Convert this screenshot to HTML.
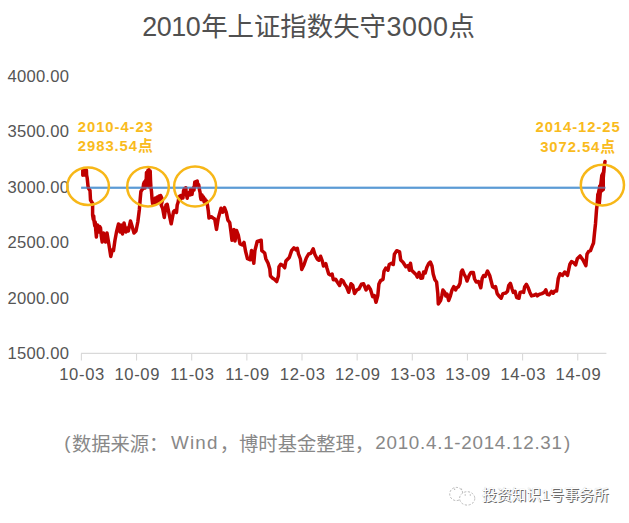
<!DOCTYPE html>
<html lang="zh-CN">
<head>
<meta charset="utf-8">
<title>2010年上证指数失守3000点</title>
<style>
html,body{margin:0;padding:0;background:#fff;}
body{width:629px;height:523px;overflow:hidden;position:relative;font-family:"Liberation Sans","Noto Sans CJK SC",sans-serif;}
svg{position:absolute;left:0;top:0;display:block;}
.title{font-size:26.4px;fill:#505050;}
.title .td{font-size:26.9px;}
.ax text{font-size:16.6px;fill:#555;letter-spacing:0.25px;}
.ann{font-size:14.8px;font-weight:bold;fill:#f9bb1d;letter-spacing:0.95px;}
.src{position:absolute;left:0;top:429px;width:629px;height:28px;color:#888;font-size:19.3px;line-height:28px;}
.src span{position:absolute;top:1.8px;white-space:nowrap;}
.src .la{font-size:18.8px;top:0;}
.wm{position:absolute;left:482px;top:485px;white-space:nowrap;font-size:14.9px;line-height:20px;color:#fff;text-shadow:1px 1px 0 #6a6a6a,0 0 1px #bbb;letter-spacing:-0.1px;}
</style>
</head>
<body>
<svg width="629" height="523" viewBox="0 0 629 523" font-family="'Liberation Sans','Noto Sans CJK SC',sans-serif">
<text class="title" y="36.4"><tspan class="td" x="142.2" textLength="58.6" lengthAdjust="spacing">2010</tspan><tspan x="201.2">年上证指数失守</tspan><tspan class="td" x="386.4" textLength="61.6" lengthAdjust="spacing">3000</tspan><tspan x="448.4">点</tspan></text>
<g class="ax"><text x="69.2" y="82.00" text-anchor="end">4000.00</text><text x="69.2" y="137.40" text-anchor="end">3500.00</text><text x="69.2" y="192.80" text-anchor="end">3000.00</text><text x="69.2" y="248.20" text-anchor="end">2500.00</text><text x="69.2" y="303.60" text-anchor="end">2000.00</text><text x="69.2" y="359.00" text-anchor="end">1500.00</text><text x="82.10" y="379.6" text-anchor="middle" style="letter-spacing:0.65px">10-03</text><text x="137.25" y="379.6" text-anchor="middle" style="letter-spacing:0.65px">10-09</text><text x="192.40" y="379.6" text-anchor="middle" style="letter-spacing:0.65px">11-03</text><text x="247.55" y="379.6" text-anchor="middle" style="letter-spacing:0.65px">11-09</text><text x="302.70" y="379.6" text-anchor="middle" style="letter-spacing:0.65px">12-03</text><text x="357.85" y="379.6" text-anchor="middle" style="letter-spacing:0.65px">12-09</text><text x="413.00" y="379.6" text-anchor="middle" style="letter-spacing:0.65px">13-03</text><text x="468.15" y="379.6" text-anchor="middle" style="letter-spacing:0.65px">13-09</text><text x="523.30" y="379.6" text-anchor="middle" style="letter-spacing:0.65px">14-03</text><text x="578.45" y="379.6" text-anchor="middle" style="letter-spacing:0.65px">14-09</text></g>
<g stroke="#d9d9d9" stroke-width="1.1" fill="none"><line x1="81" y1="353.4" x2="606.4" y2="353.4"/><line x1="81.40" y1="353.4" x2="81.40" y2="360.5"/><line x1="136.55" y1="353.4" x2="136.55" y2="360.5"/><line x1="191.70" y1="353.4" x2="191.70" y2="360.5"/><line x1="246.85" y1="353.4" x2="246.85" y2="360.5"/><line x1="302.00" y1="353.4" x2="302.00" y2="360.5"/><line x1="357.15" y1="353.4" x2="357.15" y2="360.5"/><line x1="412.30" y1="353.4" x2="412.30" y2="360.5"/><line x1="467.45" y1="353.4" x2="467.45" y2="360.5"/><line x1="522.60" y1="353.4" x2="522.60" y2="360.5"/><line x1="577.75" y1="353.4" x2="577.75" y2="360.5"/></g>
<line x1="81.2" y1="187.7" x2="605.4" y2="187.7" stroke="#5b9bd5" stroke-width="2.1"/>
<polyline points="82.8,175.2 82.8,170 84,170 84,175 85.2,175 85.2,170 86.4,170 86.6,175 87.2,178 88,186 88.6,188.5 90,190.5 90.5,200 92.6,203.5 92.6,215 93.3,219.5 93.7,216 94.1,221.5 94.8,226 95.2,222 95.7,229.5 96.4,237 96.9,228 97.5,225 98.2,230.5 99,232 99.6,226.5 100.5,228 101.3,236 102.2,242 103.5,233 105.6,242 107,233 109,245 110.8,256.5 112.2,250 113.5,250.5 115,240 116.5,232 118.5,224 120,232 121,225 122.5,234 124,223 126,232 127.5,228 128.3,231 130.5,221 132,226 134,233 136,231 137.8,222 139.3,210 140.3,198 140.9,191.5 142.2,189.5 143,188.7 143.6,184 144.4,182 144.9,188 145.5,180.5 146,186 146.5,172.4 147.3,184 147.8,170.5 148.4,186 148.9,169.6 149.5,187 150.2,171 150.5,180 150.9,186.7 151.5,191.5 152,198.5 152.6,203.5 153.5,199 154.5,203 155.5,198 156.5,202.5 157.5,197 158.3,201 159,196 160,200 160.6,195.6 161.8,198 162.4,200.5 161.2,205 162.6,208.3 164.3,217.5 166,205 167.2,204.3 168.9,213 171.2,223.8 173.5,211.8 174.7,210.6 176.5,212.4 177.2,205 178.1,202.3 178.8,198 179.6,196.3 180.3,200 181,195.5 182.4,195.5 183,198 183.5,191 184.3,188.7 185,192 185.8,187.7 186.3,194 187.2,198.2 188,193 189.1,192.5 189.8,195 190.5,189.6 191.3,192 192,194.4 192.7,190 193.4,187.7 194,190 194.8,182 195.5,186 196,181.5 197.2,181 197.8,185 198.7,184.8 199.5,190 200.1,192.5 200.5,197 201,199.5 202,195 202.8,200 203.5,197 204.2,202 205,199 205.8,203 206.5,201 207.5,205.5 208.3,211 209,218 211.3,216.8 213,218 214.7,219 216.5,229.4 218.2,218.5 219.3,214.5 221,208.2 222.8,212.2 224.5,207.6 226.2,212.2 227.9,220.2 229.7,222.5 230.8,230.5 232,240.3 233.1,230.5 234,229.5 235,240.9 236.5,230.5 238.3,235.1 240,244 242.3,245 244,242.4 245.5,251 247.5,258.7 250.3,259.8 251.5,250.6 252.5,252.5 253.8,263.3 254.9,250.6 257.2,241.5 261.2,240.3 261.8,250.6 264.7,253 265.8,258.7 268.1,263.3 269.8,269 270.4,275.9 272.7,278.2 274.4,279.3 276.7,281.6 278.4,275.9 279,266.7 280.7,264.4 283,265.6 284.7,267.8 285.9,261 289.3,257.5 291.6,250.6 293.9,247.8 296.2,250 297.3,248.3 298.5,254 300.4,259 301.7,269.4 304,264.8 306.3,258 308.6,254 310.9,253.3 313.2,248.8 314.9,254.5 317.2,259 318.9,260.2 320.6,256.2 322.4,261.4 323.5,266 325.8,263.7 327,268.3 328.7,274 330.4,275 332.1,274 333.3,279.7 335.6,279.2 337.3,282 339.6,285.5 341.3,279.7 343,280.9 344.7,284.3 346.4,286.6 348.7,292.3 351,283.7 352.8,285.5 354.5,293.5 356.8,290 359,288.9 361.4,284.3 363.6,283.8 366.1,290 368.3,286 370.5,289.5 372.6,296.6 374.3,295.5 376,302.3 377.8,295.5 378.9,284 380.6,280.6 383,279.4 384,271.4 385.8,268 388,270.2 389.2,264.5 391.5,263.3 393.3,264.5 394.4,254.2 396.7,250.7 399.6,251.9 400.7,260 403,262.2 405.9,266.8 408.2,265.6 409.3,270.2 410.5,263.3 411.6,270.2 413.9,272.5 416.2,274.8 417.3,277.1 419,272.5 420.8,278.3 422.5,278 423.6,272 425.2,273 426.9,267.2 428.6,263.8 430.3,262 432,266 433.2,274 434.9,279.8 436.6,282 437.8,293.6 438.3,303.9 440.6,300.5 441.8,295.9 442.9,290 444.7,292.4 445.8,295.9 447,294 448.7,300.5 450.4,295.9 452,290 453.8,286.7 455.6,290 456.7,287.8 458.4,286.7 460,283.3 461.3,271.8 462.4,270 464,274 465.9,277.5 467,281 469.3,275.2 471,272.4 473.3,272.4 474.5,278.7 476.2,282 478.5,281.5 480.8,287.8 482.2,278.3 483.6,275.6 485.2,276.4 487.5,271 489.7,275.5 491.5,282.5 492.6,286.7 494.3,287.8 495.5,286.5 497.2,293.6 498.9,295.9 501.2,298.2 502.9,293.6 505.8,293 507.5,291.3 508.7,285.6 510.4,283.3 512.1,289 513.3,292.4 515,291.3 516.7,297.6 519,298.2 520.1,292.4 521.9,291.9 523.6,292.4 524.7,286.7 526.4,284.4 528.2,287.8 529.9,292.4 531.6,295.9 533.9,295.3 536.2,294.2 537.3,295.9 539.6,294.2 541.9,293.6 544.2,292.4 545.8,289.8 547.2,294.3 549.2,294.9 551.5,291.4 553.2,293.2 554.9,290.9 556.6,290.9 558.3,278.3 560,273.7 562.4,275.4 564.7,272 567.5,275.4 569.8,264.5 571.5,261.6 573.8,262.8 575.6,265 577.3,258.8 580.1,255.9 583,260 585.9,265.6 587,254.2 588.7,251.3 590.5,250.7 592.2,246.1 593.5,243 594.5,233 595.5,223.7 596.5,210 597.2,204 597.8,195 599.5,191.7 600.6,186 601.8,175.6 603.5,172.2 604.1,167.6 605,161.5" fill="none" stroke="#c00000" stroke-width="3.5" stroke-linejoin="round" stroke-linecap="round"/>
<polygon points="596.2,206 596.2,195 597.4,189.4 598.2,185 600.3,183.7 600.6,176 603,170.5 604,162 605.6,162 605.5,172 605,178 605,190.3 602,192.8 600.8,206" fill="#c00000"/>
<line x1="81.2" y1="187.7" x2="605.4" y2="187.7" stroke="#5b9bd5" stroke-width="2.1" opacity="0.6"/>
<g fill="none" stroke="#f7b718" stroke-width="2.5">
<ellipse cx="88.1" cy="186.2" rx="20.8" ry="18.8"/>
<ellipse cx="148" cy="186.7" rx="20.8" ry="19.8"/>
<ellipse cx="195.1" cy="186.5" rx="21" ry="20"/>
<ellipse cx="602.4" cy="185.1" rx="21.6" ry="20.3"/>
</g>
<g class="ann" text-anchor="middle">
<text x="115.8" y="131.9">2010-4-23</text>
<text x="115.8" y="151">2983.54点</text>
<text x="578.1" y="132.4">2014-12-25</text>
<text x="578.1" y="151.6">3072.54点</text>
</g>
<g fill="#fff" stroke="#a8a8a8" stroke-width="0.8" stroke-dasharray="2.2 1.6">
<ellipse cx="456.3" cy="494" rx="6.6" ry="6.6"/>
<ellipse cx="467.2" cy="498.4" rx="7.6" ry="6.7"/>
</g>
<g fill="#b5b5b5"><circle cx="454.6" cy="489.2" r="0.7"/><circle cx="461.5" cy="489.2" r="0.7"/><circle cx="465.2" cy="495" r="0.7"/><circle cx="470.3" cy="495" r="0.7"/></g>
</svg>
<div class="src"><span class="la" style="left:64.2px">(</span><span style="left:71.9px">数据来源：</span><span class="la" style="left:171px;letter-spacing:1.2px">Wind</span><span style="left:219.8px">，博时基金整理，</span><span class="la" style="left:375.3px;letter-spacing:0.74px">2010.4.1-2014.12.31</span><span class="la" style="left:564px">)</span></div>
<div class="wm">投资知识1号事务所</div>
</body>
</html>
